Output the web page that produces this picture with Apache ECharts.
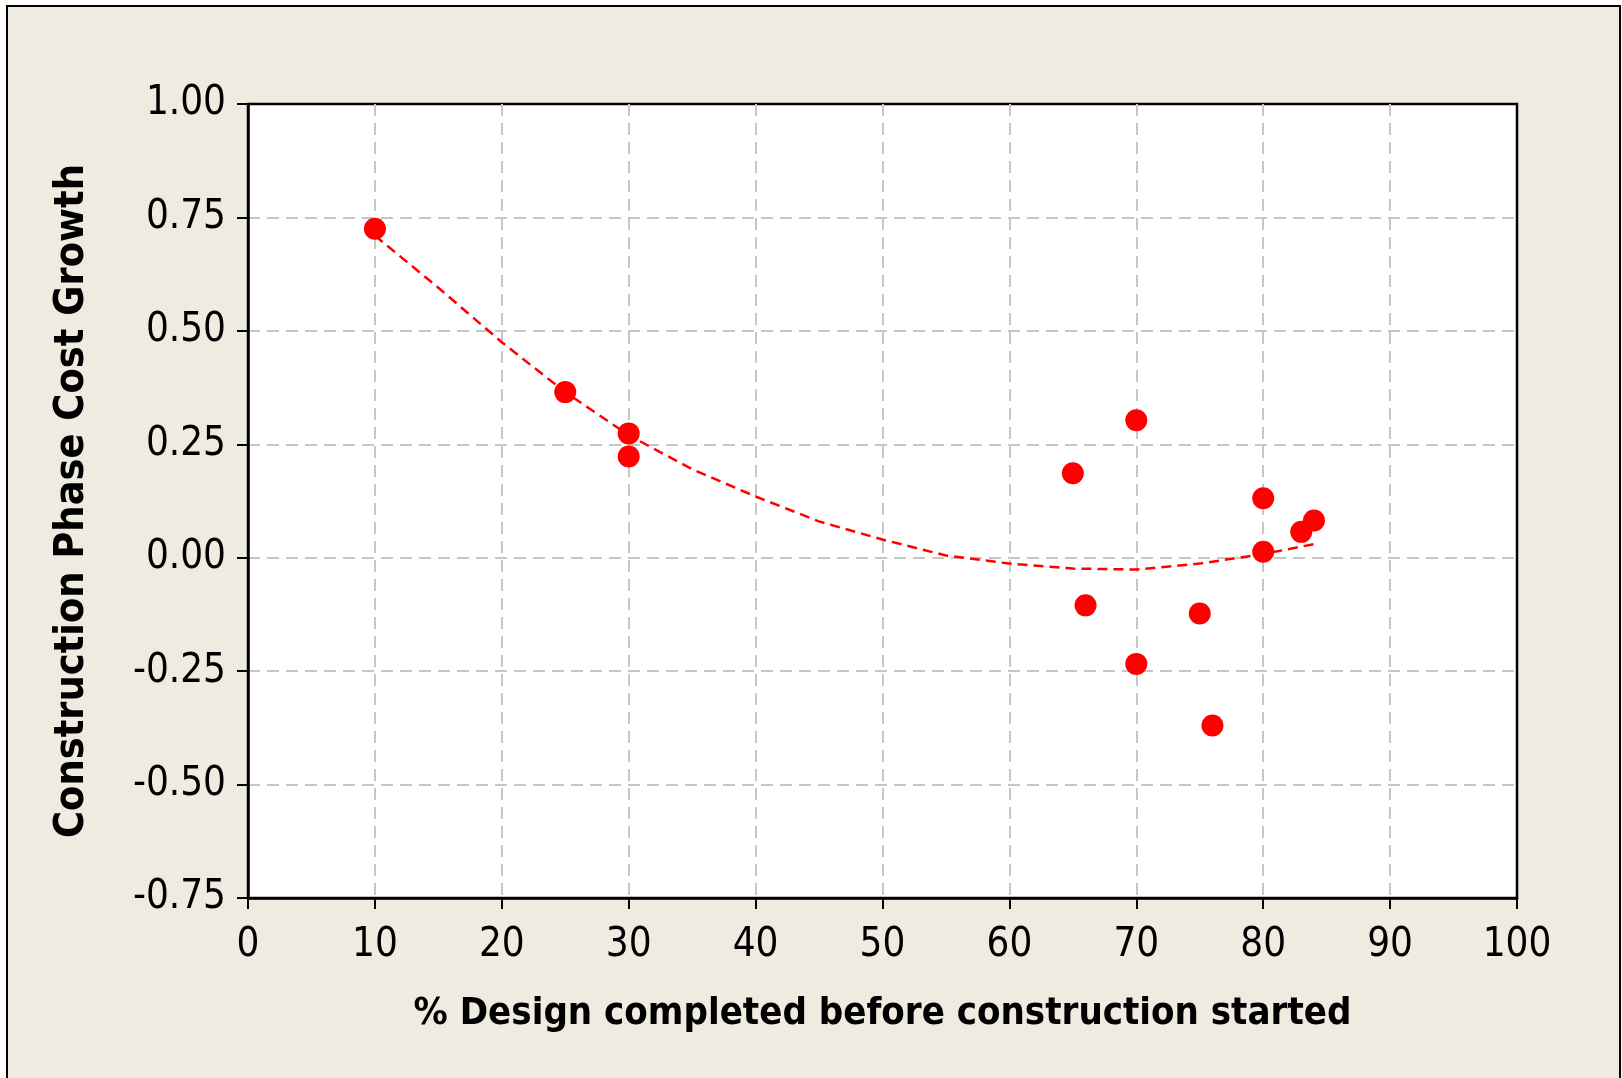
<!DOCTYPE html>
<html>
<head>
<meta charset="utf-8">
<script src="https://cdn.jsdelivr.net/npm/echarts@6/dist/echarts.min.js"></script>
<style>
html,body{margin:0;padding:0;background:#ffffff;}
#chart{width:1622px;height:1078px;}
</style>
</head>
<body>
<div id="chart"></div>
<script>
// Data
const xTitle = '% Design completed before construction started';
const yTitle = 'Construction Phase Cost Growth';
const pointX = [10, 25, 30, 30, 65, 66, 70, 70, 75, 76, 80, 80, 83, 84];
const pointY = [0.725, 0.365, 0.274, 0.223, 0.186, -0.105, 0.303, -0.234, -0.123, -0.370, 0.131, 0.013, 0.057, 0.082];
const trendX = [10, 15, 20, 25, 30, 35, 40, 45, 50, 55, 60, 65, 70, 75, 80, 84];
const trendY = [0.71, 0.595, 0.475, 0.365, 0.27, 0.195, 0.135, 0.08, 0.04, 0.005, -0.013, -0.024, -0.026, -0.013, 0.008, 0.030];

const FONT = '"DejaVu Sans Condensed", "Liberation Sans", sans-serif';
const points = pointX.map((x, i) => [x, pointY[i]]);
const trend = trendX.map((x, i) => [x, trendY[i]]);

const chart = echarts.init(document.getElementById('chart'), null, {renderer: 'canvas'});
const gridLine = {show: true, showMinLine: false, showMaxLine: false,
  lineStyle: {color: '#c6c6c6', width: 2, type: [12, 7]}};
chart.setOption({
  animation: false,
  backgroundColor: 'transparent',
  graphic: [{
    type: 'rect', z: -10, silent: true,
    shape: {x: 7, y: 6, width: 1613, height: 1090},
    style: {fill: '#EFEBE1', stroke: '#000000', lineWidth: 2}
  }],
  grid: {
    left: 248, top: 104, right: 105, bottom: 180,
    show: true, backgroundColor: '#ffffff', borderColor: '#000000', borderWidth: 2.5
  },
  xAxis: {
    type: 'value', min: 0, max: 100, interval: 10,
    name: xTitle, nameLocation: 'middle', nameGap: 97,
    nameTextStyle: {fontFamily: FONT, fontSize: 38, fontWeight: 'bold', color: '#000'},
    axisLine: {show: true, onZero: false, lineStyle: {color: '#000', width: 2.5}},
    axisTick: {show: true, inside: false, length: 11, lineStyle: {color: '#000', width: 2}},
    axisLabel: {fontFamily: FONT, fontSize: 40, color: '#000', margin: 28},
    splitLine: gridLine
  },
  yAxis: {
    type: 'value', min: -0.75, max: 1.0, interval: 0.25,
    name: yTitle, nameLocation: 'middle', nameGap: 155, nameRotate: 90,
    nameTextStyle: {fontFamily: FONT, fontSize: 41, fontWeight: 'bold', color: '#000'},
    axisLine: {show: true, onZero: false, lineStyle: {color: '#000', width: 2.5}},
    axisTick: {show: true, inside: false, length: 11, lineStyle: {color: '#000', width: 2}},
    axisLabel: {fontFamily: FONT, fontSize: 40, color: '#000', margin: 22,
      formatter: v => v.toFixed(2)},
    splitLine: gridLine
  },
  series: [
    {
      type: 'line', data: trend, showSymbol: false, symbol: 'none', z: 3,
      lineStyle: {color: '#ff0000', width: 2.5, type: [10, 6]}
    },
    {
      type: 'scatter', data: points, symbol: 'circle', symbolSize: 22, z: 4,
      itemStyle: {color: '#ff0000', opacity: 1}
    }
  ]
});
</script>
</body>
</html>
